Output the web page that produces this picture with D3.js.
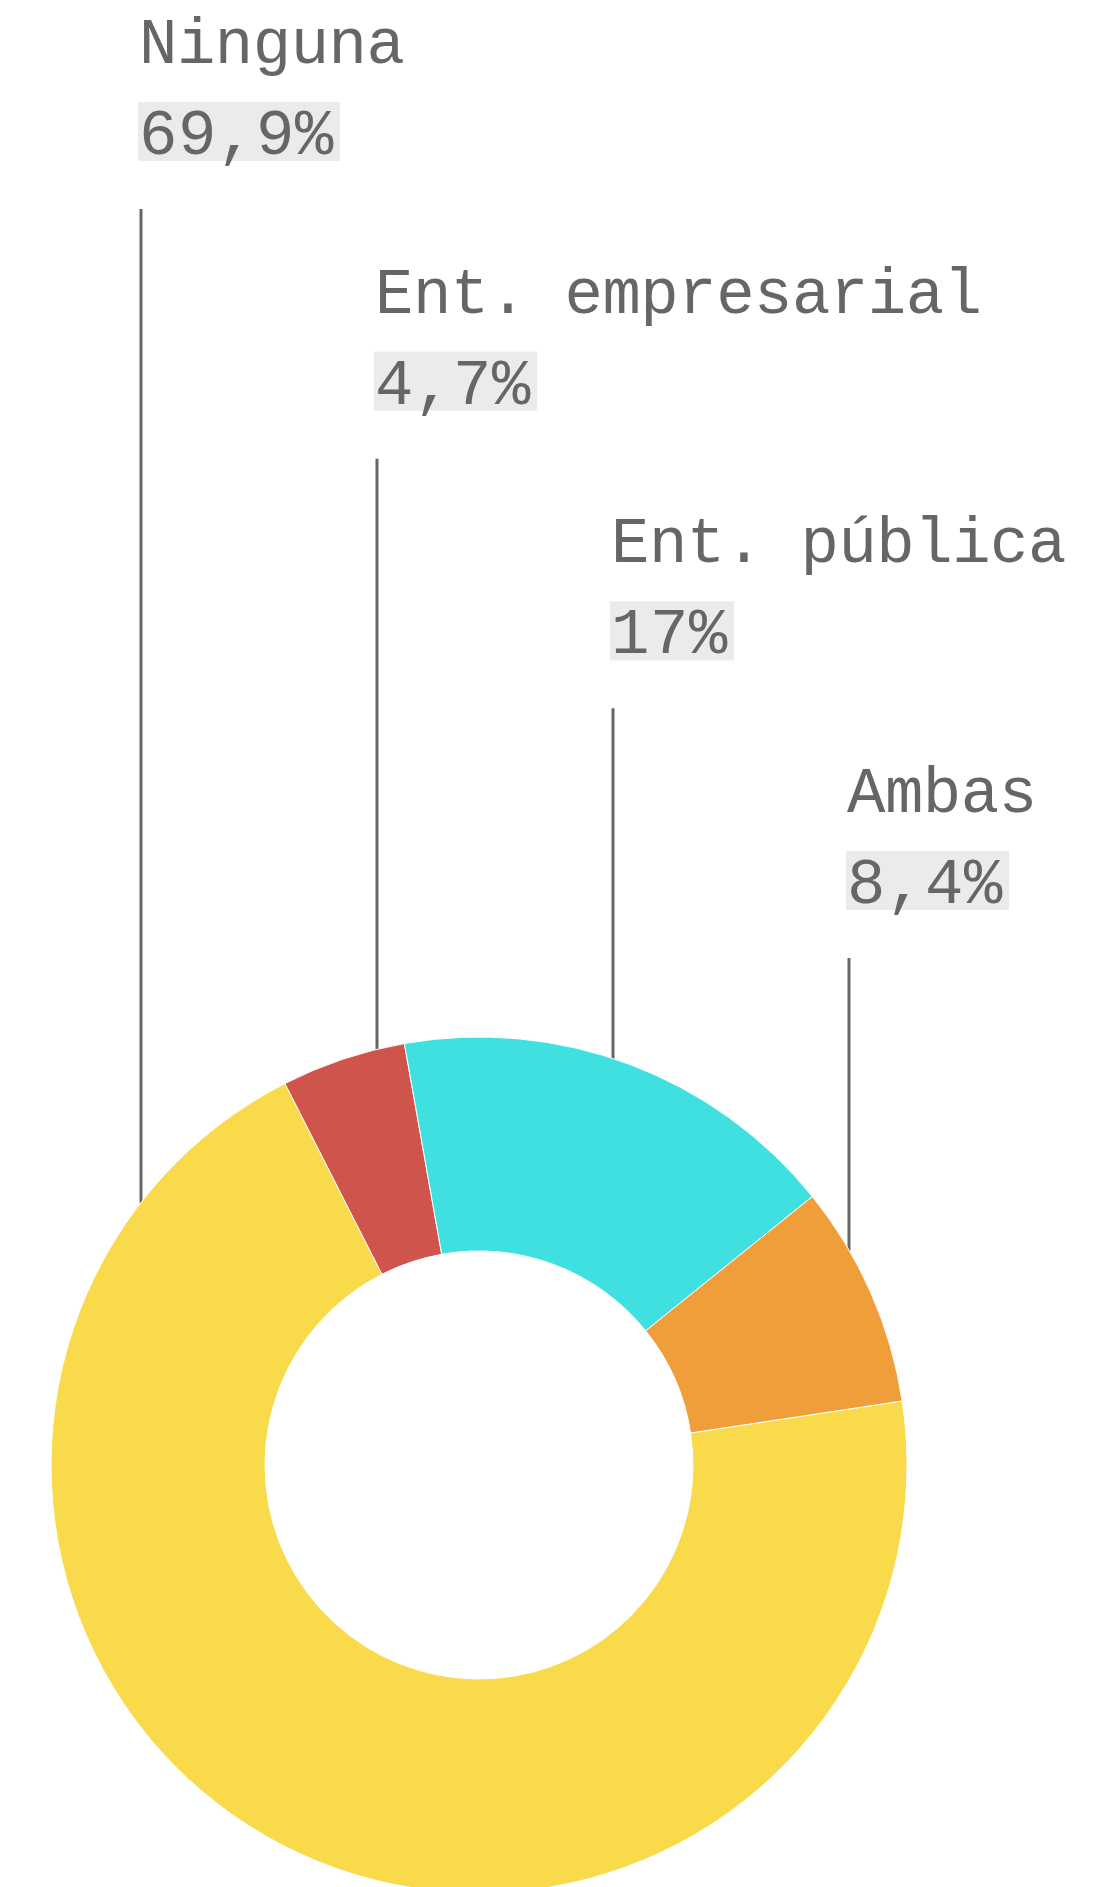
<!DOCTYPE html>
<html lang="es">

<head>
    <meta charset="UTF-8">
    <title>Donut</title>
    <script src="https://d3js.org/d3.v7.min.js"></script>
    <style>
        html, body {
            margin: 0;
            padding: 0;
            background: #fff;
            overflow: hidden;
        }

        text {
            font-family: "Liberation Mono", "DejaVu Sans Mono", monospace;
            font-size: 64px;
            letter-spacing: -0.5px;
            fill: #666;
        }

        text.pct {
            letter-spacing: 0.6px;
        }
    </style>
</head>

<body>
    <script>
        // data
        const categories = ["Ninguna", "Ent. empresarial", "Ent. pública", "Ambas"];
        const values = [69.9, 4.7, 17, 8.4];
        const colors = ["#f9da4a", "#ce544c", "#41e0e0", "#f09e39"];

        const width = 1112
        const height = 1887

        const cx = 479, cy = 1465
        const outerR = 428, innerR = 214

        let svg = d3.select("body").append("svg")
            .attr("width", width)
            .attr("height", height);

        const rows = categories.map((c, i) => ({ name: c, value: values[i], color: colors[i] }));

        // label columns step down from top-left to the right
        const xPos = d3.scalePoint().domain(categories).range([141, 849]);
        const yPos = d3.scalePoint().domain(categories).range([63, 812]);

        const fmt = v => String(v).replace(".", ",") + "%";

        // leader lines (drawn first, donut covers the ends)
        svg.append("g").selectAll("line")
            .data(rows)
            .join("line")
            .attr("x1", d => xPos(d.name))
            .attr("x2", d => xPos(d.name))
            .attr("y1", d => yPos(d.name) + 146)
            .attr("y2", d => {
                const dx = xPos(d.name) - cx;
                return cy - Math.sqrt(outerR * outerR - dx * dx) + 1;
            })
            .attr("stroke", "#666")
            .attr("stroke-width", 3);

        const labels = svg.append("g").selectAll("g")
            .data(rows)
            .join("g")
            .attr("transform", d => `translate(${xPos(d.name)},${yPos(d.name)})`);

        labels.append("text")
            .attr("x", -2)
            .text(d => d.name);

        const boxes = labels.append("rect")
            .attr("fill", "#ebebeb");

        const pct = labels.append("text")
            .attr("class", "pct")
            .attr("x", -2)
            .attr("y", 91)
            .text(d => fmt(d.value));

        pct.each(function (d, i) {
            const w = this.getComputedTextLength();
            d3.select(boxes.nodes()[i])
                .attr("x", -3)
                .attr("y", 39)
                .attr("width", w + 7)
                .attr("height", 59);
        });

        // donut
        const pie = d3.pie()
            .sort(null)
            .value(d => d.value)
            .startAngle(81.4 * Math.PI / 180)
            .endAngle(81.4 * Math.PI / 180 + 2 * Math.PI);

        const arc = d3.arc()
            .innerRadius(innerR)
            .outerRadius(outerR);

        svg.append("g")
            .attr("transform", `translate(${cx},${cy})`)
            .selectAll("path")
            .data(pie(rows))
            .join("path")
            .attr("d", arc)
            .attr("fill", d => d.data.color)
            .attr("stroke", "#fff")
            .attr("stroke-width", 1);
    </script>
</body>

</html>
